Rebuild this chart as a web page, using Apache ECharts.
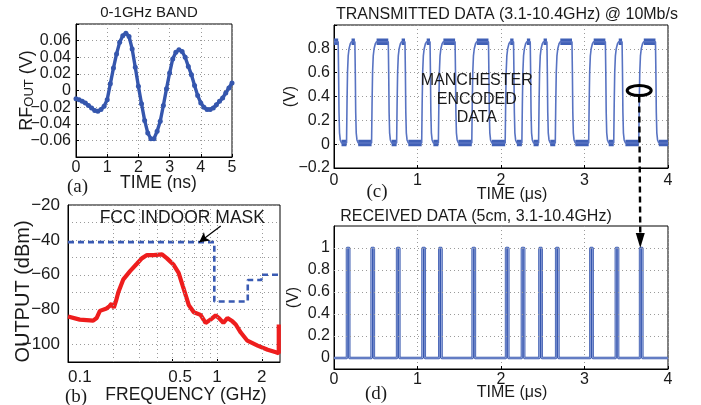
<!DOCTYPE html>
<html><head><meta charset="utf-8">
<script src="https://cdn.jsdelivr.net/npm/echarts@6/dist/echarts.min.js"></script>
<style>html,body{margin:0;padding:0;background:#fff}#c{width:701px;height:405px}</style>
</head><body><div id="c"></div>
<script>
// ---------- (a) 0-1GHz band pulse ----------
const A_TIME = [0.0,0.1,0.2,0.3,0.4,0.5,0.6,0.7,0.8,0.9,1.0,1.1,1.2,1.3,1.4,1.5,1.6,1.7,1.8,1.9,2.0,2.1,2.2,2.3,2.4,2.5,2.6,2.7,2.8,2.9,3.0,3.1,3.2,3.3,3.4,3.5,3.6,3.7,3.8,3.9,4.0,4.1,4.2,4.3,4.4,4.5,4.6,4.7,4.8,4.9,5.0];
const A_RFOUT = [-0.010,-0.011,-0.013,-0.015,-0.018,-0.021,-0.024,-0.025,-0.023,-0.019,-0.011,0.008,0.027,0.044,0.058,0.066,0.069,0.065,0.050,0.028,0.005,-0.016,-0.036,-0.051,-0.058,-0.058,-0.049,-0.037,-0.018,0.002,0.021,0.038,0.046,0.049,0.047,0.040,0.029,0.019,0.006,-0.006,-0.015,-0.020,-0.023,-0.023,-0.021,-0.017,-0.013,-0.009,-0.003,0.003,0.009];

// ---------- (b) spectrum + FCC mask ----------
const B_FREQ = [0.1,0.12,0.1476,0.1556,0.1637,0.1816,0.19,0.1964,0.203,0.21,0.2177,0.2353,0.261,0.29,0.313,0.339,0.375,0.428,0.462,0.512,0.553,0.598,0.647,0.699,0.776,0.839,0.906,0.98,1.032,1.104,1.175,1.27,1.337,1.445,1.6,1.875,2.19,2.49,2.6,2.6];
const B_OUTPUT = [-83.9,-85.7,-86.3,-84.8,-80.7,-79.3,-78,-76.5,-79,-75,-70,-62.6,-57.9,-53.7,-50.6,-48.7,-48.7,-48.3,-50.6,-54.3,-58.9,-68.1,-77.4,-81.5,-83,-87.6,-85.7,-83.3,-84.8,-87.6,-84.8,-86.7,-88.5,-93.1,-97.8,-100.6,-103,-104.4,-105,-88.5];
const MASK_FREQ = [0.1,0.96,0.96,1.61,1.61,1.99,1.99,2.65];
const MASK_DB = [-41.3,-41.3,-75.3,-75.3,-63,-63,-60,-60];
const B_TICK_LABELS = [0.1,0.5,1,2];
const B_GRID_FREQ = [0.2,0.3,0.4,0.5,0.6,0.7,0.8,0.9,1,2];

// ---------- (c) transmitted Manchester data ----------
const C_EDGES = [0.05,0.15,0.25,0.45,0.65,0.75,0.85,1.05,1.15,1.25,1.45,1.65,1.85,2.05,2.15,2.25,2.35,2.45,2.55,2.65,2.85,3.05,3.25,3.35,3.45,3.65,3.85];
const C_START_HIGH = true;
const C_HIGH = 0.86, C_LOW = 0.01;
const RISE_SHAPE = [[0,0],[0.006,0.4],[0.012,0.7],[0.02,0.86],[0.03,0.93],[0.045,0.98],[0.06,1]];
const FALL_SHAPE = [[0,0],[0.005,0.3],[0.01,0.7],[0.016,0.9],[0.025,0.97],[0.04,1]];

// ---------- (d) received data ----------
const D_PULSES = [0.155,0.45,0.755,1.06,1.26,1.66,2.06,2.25,2.46,2.66,3.07,3.375,3.665];
const D_PULSE_WIDTH = 0.028;
const D_GRID_V = [0.2,0.4,0.6,0.8,1.0];

// ---------- build ----------
const FONT = 'Liberation Sans, Arial, Helvetica, sans-serif';
const SERIF = 'Liberation Serif, Times New Roman, serif';
const TXT = '#1a1a1a';
const BLUE = '#3556ad';
const GRIDLINE = {show:true, lineStyle:{color:'#9a9a9a', type:[1,3], width:1}};
const minus = s => String(s).replace('-', '\u2212');

const aData = A_TIME.map((t,i)=>[t, A_RFOUT[i]]);
const bData = B_FREQ.map((f,i)=>[f, B_OUTPUT[i]]);
const maskData = MASK_FREQ.map((f,i)=>[f, MASK_DB[i]]);

const lv = h => h ? C_HIGH : C_LOW;
const txData = [], bandData = [];
(function(){
  let high = C_START_HIGH;
  txData.push([0, lv(high)]);
  let plateauStart = 0;
  C_EDGES.forEach(T => {
    bandData.push([plateauStart, lv(high)], [T, lv(high)], [T, '-']);
    const from = lv(high), to = lv(!high);
    const shape = high ? FALL_SHAPE : RISE_SHAPE;
    shape.forEach(([dt,f]) => txData.push([T+dt, from + (to-from)*f]));
    plateauStart = T + shape[shape.length-1][0];
    high = !high;
  });
  txData.push([4, lv(high)]);
  bandData.push([plateauStart, lv(high)], [4, lv(high)]);
})();

const rxData = [[0,0]];
D_PULSES.forEach(t => { rxData.push([t,0],[t,1],[t+D_PULSE_WIDTH,1],[t+D_PULSE_WIDTH,0]); });
rxData.push([4,0]);

const tickLbl = (extra) => Object.assign({color:TXT, fontFamily:FONT, fontSize:16}, extra);
const inTick = {show:true, inside:true, length:3, lineStyle:{color:'#000'}};
const axLine = {show:true, onZero:false, lineStyle:{color:'#000', width:1}};

const chart = echarts.init(document.getElementById('c'), null, {renderer:'canvas'});
const option = {
  backgroundColor:'#fff',
  animation:false,
  grid:[
    {left:76, top:24, width:156, height:133, show:true, borderColor:'#000', borderWidth:1},
    {left:68, top:205, width:212, height:162, show:true, borderColor:'#000', borderWidth:1},
    {left:334, top:25, width:334, height:143, show:true, borderColor:'#000', borderWidth:1},
    {left:334, top:226, width:334, height:143, show:true, borderColor:'#000', borderWidth:1}
  ],
  xAxis:[
    {gridIndex:0, type:'value', min:0, max:5, interval:1, axisLine:axLine, axisTick:inTick, splitLine:GRIDLINE,
     axisLabel:tickLbl({margin:3}), nameMoveOverlap:false,
     name:'TIME (ns)', nameLocation:'middle', nameGap:17, nameTextStyle:{color:TXT, fontFamily:FONT, fontSize:17.5, padding:[0,0,0,9]}},
    {gridIndex:1, type:'log', logBase:10, min:0.1, max:2.65, axisLine:axLine, splitLine:{show:false},
     axisTick:{show:true, inside:true, length:3, customValues:B_TICK_LABELS, lineStyle:{color:'#000'}},
     axisLabel:tickLbl({margin:7, fontSize:17, customValues:B_TICK_LABELS, alignMinLabel:'left',
       formatter: v => { const s = String(Math.round(v*10)/10); return Math.abs(v-0.5)<1e-6 ? '{r|'+s+'}' : s; },
       rich:{r:{fontSize:17, fontFamily:FONT, color:TXT, padding:[0,0,0,16]}}}), nameMoveOverlap:false,
     name:'FREQUENCY (GHz)', nameLocation:'middle', nameGap:24, nameTextStyle:{color:TXT, fontFamily:FONT, fontSize:17.5, padding:[0,0,0,24]}},
    {gridIndex:2, type:'value', min:0, max:4, interval:1, axisLine:axLine, axisTick:inTick, splitLine:GRIDLINE,
     axisLabel:tickLbl({margin:5}), nameMoveOverlap:false,
     name:'TIME (\u03bcs)', nameLocation:'middle', nameGap:19, nameTextStyle:{color:TXT, fontFamily:FONT, fontSize:16, padding:[0,0,0,22]}},
    {gridIndex:3, type:'value', min:0, max:4, interval:1, axisLine:axLine, axisTick:inTick, splitLine:GRIDLINE,
     axisLabel:tickLbl({margin:3}), nameMoveOverlap:false,
     name:'TIME (\u03bcs)', nameLocation:'middle', nameGap:16, nameTextStyle:{color:TXT, fontFamily:FONT, fontSize:16, padding:[0,0,0,22]}}
  ],
  yAxis:[
    {gridIndex:0, type:'value', min:-0.08, max:0.08, interval:0.02, axisLine:axLine, axisTick:inTick, splitLine:GRIDLINE,
     axisLabel:tickLbl({margin:5, formatter: v => Math.abs(v)>0.07 ? '' : minus(Math.round(v*100)/100)}),
     nameMoveOverlap:false, name:'{a|RF}{b|OUT}{a| (V)}', nameLocation:'middle', nameGap:40,
     nameTextStyle:{color:TXT, fontFamily:FONT, rich:{a:{fontSize:18, fontFamily:FONT, color:TXT}, b:{fontSize:13, fontFamily:FONT, color:TXT, verticalAlign:'bottom'}}}},
    {gridIndex:1, type:'value', min:-110, max:-20, interval:10, axisLine:axLine, axisTick:{show:false}, splitLine:GRIDLINE,
     axisLabel:tickLbl({margin:8, fontSize:17, formatter: v => (Math.round(v)%20===0 && v>-105) ? minus(Math.round(v)) : ''}),
     nameMoveOverlap:false, name:'OUTPUT (dBm)', nameLocation:'middle', nameGap:35, nameTextStyle:{color:TXT, fontFamily:FONT, fontSize:20, padding:[0,16,0,0]}},
    {gridIndex:2, type:'value', min:-0.2, max:1.0, interval:0.2, axisLine:axLine, axisTick:inTick, splitLine:GRIDLINE,
     axisLabel:tickLbl({margin:4, formatter: v => v>0.9 ? '' : minus(Math.round(v*10)/10)}),
     nameMoveOverlap:false, name:'(V)', nameLocation:'middle', nameGap:35, nameTextStyle:{color:TXT, fontFamily:FONT, fontSize:16}},
    {gridIndex:3, type:'value', min:-0.1, max:1.2, interval:0.1, axisLine:axLine, axisTick:{show:false}, splitLine:{show:false},
     axisLabel:tickLbl({margin:4, formatter: v => { const k = Math.round(v*10); return (k>=0 && k<=10 && k%2===0) ? String(k/10) : ''; }}),
     nameMoveOverlap:false, name:'(V)', nameLocation:'middle', nameGap:32, nameTextStyle:{color:TXT, fontFamily:FONT, fontSize:16}}
  ],
  series:[
    {type:'line', xAxisIndex:0, yAxisIndex:0, data:aData, symbol:'circle', symbolSize:5, showSymbol:true,
     lineStyle:{color:BLUE, width:3.4}, itemStyle:{color:BLUE}, z:3},
    {type:'line', xAxisIndex:1, yAxisIndex:1, data:[], symbol:'none', z:1,
     markLine:{silent:true, symbol:'none', label:{show:false}, animation:false,
       lineStyle:{color:'#9a9a9a', type:[1,3], width:1}, data:B_GRID_FREQ.map(f=>({xAxis:f}))}},
    {type:'line', xAxisIndex:1, yAxisIndex:1, data:bData, symbol:'none', lineStyle:{color:'#ee1d1d', width:4.2}, z:3},
    {type:'line', xAxisIndex:1, yAxisIndex:1, data:maskData, symbol:'none', lineStyle:{color:'#3a5bb3', width:2.6, type:[6,4]}, z:3,
     markLine:{silent:true, symbol:['none','arrow'], symbolSize:[8,10], label:{show:false}, animation:false,
       lineStyle:{color:'#000', width:1.2, type:'solid'},
       data:[[{coord:[1.06,-32]},{coord:[0.76,-41.3]}]]}},
    {type:'line', xAxisIndex:2, yAxisIndex:2, data:bandData, symbol:'none', connectNulls:false,
     lineStyle:{color:'#4060b6', width:6.5, cap:'butt'}, z:2},
    {type:'line', xAxisIndex:2, yAxisIndex:2, data:txData, symbol:'none', lineStyle:{color:'#5873c2', width:1.6}, z:3},
    {type:'line', xAxisIndex:3, yAxisIndex:3, data:[], symbol:'none', z:1,
     markLine:{silent:true, symbol:'none', label:{show:false}, animation:false,
       lineStyle:{color:'#9a9a9a', type:[1,3], width:1}, data:D_GRID_V.map(v=>({yAxis:v}))}},
    {type:'line', xAxisIndex:3, yAxisIndex:3, data:rxData, symbol:'none', lineStyle:{color:'#3556ad', width:2.4}, z:3},
    {type:'line', xAxisIndex:3, yAxisIndex:3, data:rxData, symbol:'none', lineStyle:{color:'#a9b8e6', width:0.8}, z:4}
  ]
};
chart.setOption(option);

function px(g, pt){ return chart.convertToPixel({gridIndex:g}, pt); }
const ell = px(2, [3.655, 0.45]);
const tip = px(3, [3.668, 1.0]);
const fcc = px(1, [0.585, -27.8]);
const man = px(2, [1.71, 0.375]);
const T = (x,y,text,o) => ({type:'text', x, y, silent:true, z:20,
  style:Object.assign({text, fill:TXT, font:'16px '+FONT, align:'center', verticalAlign:'middle'}, o||{})});
chart.setOption({graphic:[
  T(149, 13, '0-1GHz BAND', {font:'15px '+FONT}),
  T(507, 15, 'TRANSMITTED DATA (3.1-10.4GHz) @ 10Mb/s'),
  T(476, 216.5, 'RECEIVED DATA (5cm, 3.1-10.4GHz)'),
  T(77.5, 187, '(a)', {font:'19px '+SERIF}),
  T(76, 397, '(b)', {font:'19px '+SERIF}),
  T(377, 192, '(c)', {font:'19px '+SERIF}),
  T(376, 394, '(d)', {font:'19px '+SERIF}),
  T(fcc[0], fcc[1], 'FCC INDOOR MASK', {font:'17.5px '+FONT}),
  T(man[0], man[1], 'MANCHESTER\nENCODED\nDATA', {font:'16px '+FONT, lineHeight:18.5}),
  {type:'ellipse', z:20, silent:true, shape:{cx:ell[0], cy:ell[1], rx:12, ry:5}, style:{fill:'none', stroke:'#000', lineWidth:3}},
  {type:'line', z:20, silent:true, shape:{x1:ell[0], y1:ell[1]+6, x2:tip[0], y2:tip[1]-13},
   style:{stroke:'#000', lineWidth:2.4, lineDash:[6,4]}},
  {type:'polygon', z:20, silent:true, shape:{points:[[tip[0]-4.5, tip[1]-15],[tip[0]+4.5, tip[1]-15],[tip[0], tip[1]]]}, style:{fill:'#000'}}
]});
</script></body></html>
